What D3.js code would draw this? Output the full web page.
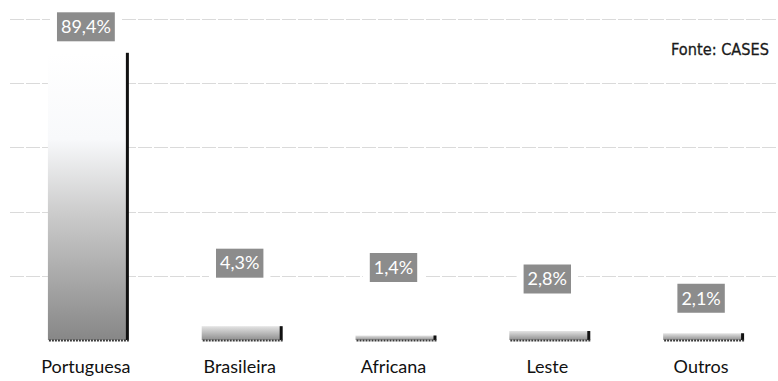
<!DOCTYPE html>
<html>
<head>
<meta charset="utf-8">
<script src="https://cdn.jsdelivr.net/npm/d3@7"></script>
<style>
  html, body { margin: 0; padding: 0; background: #fff; }
  svg { display: block; }
</style>
</head>
<body>
<svg id="chart" width="778" height="381"></svg>
<script>
// ---- data ----
const categories = ["Portuguesa", "Brasileira", "Africana", "Leste", "Outros"];
const values = [89.4, 4.3, 1.4, 2.8, 2.1];
const valueLabels = ["89,4%", "4,3%", "1,4%", "2,8%", "2,1%"];
const gridTicks = [20, 40, 60, 80, 100];
const sourceText = "Fonte: CASES";

// ---- layout (label nudges as in the reference) ----
const labelLift = [26, 63, 68, 52, 35];

const W = 778, H = 381;
const svg = d3.select("#chart");

const x = d3.scaleBand().domain(categories).range([11, 780]).paddingInner(0.48).paddingOuter(0.24);
const y = d3.scaleLinear().domain([0, 100]).range([340, 18.75]);

const defs = svg.append("defs");
const grad = defs.append("linearGradient").attr("id", "barGrad")
  .attr("x1", 0).attr("y1", 0).attr("x2", 0).attr("y2", 1);
grad.append("stop").attr("offset", "0%").attr("stop-color", "#ffffff");
grad.append("stop").attr("offset", "30%").attr("stop-color", "#f8f9fb");
grad.append("stop").attr("offset", "55%").attr("stop-color", "#cdcdcd");
grad.append("stop").attr("offset", "100%").attr("stop-color", "#878787");

const gradSmall = defs.append("linearGradient").attr("id", "barGradSmall")
  .attr("x1", 0).attr("y1", 0).attr("x2", 0).attr("y2", 1);
gradSmall.append("stop").attr("offset", "0%").attr("stop-color", "#e4e4e4");
gradSmall.append("stop").attr("offset", "100%").attr("stop-color", "#8f8f8f");

// gridlines
svg.append("g").selectAll("line").data(gridTicks).join("line")
  .attr("x1", 10).attr("x2", W)
  .attr("y1", d => Math.round(y(d)) + 0.5).attr("y2", d => Math.round(y(d)) + 0.5)
  .attr("stroke", "#dadada").attr("stroke-width", 1)
  .attr("stroke-dasharray", "14,2");

// bars
const bars = svg.append("g");
const data = categories.map((c, i) => ({ c, v: values[i], lab: valueLabels[i], lift: labelLift[i] }));

bars.selectAll("rect.bar").data(data).join("rect")
  .attr("class", "bar")
  .attr("x", d => x(d.c))
  .attr("y", d => y(d.v))
  .attr("width", x.bandwidth())
  .attr("height", d => y(0) - y(d.v))
  .attr("fill", d => d.v > 20 ? "url(#barGrad)" : "url(#barGradSmall)");

// dark right edge
bars.selectAll("rect.edge").data(data).join("rect")
  .attr("class", "edge")
  .attr("x", d => x(d.c) + x.bandwidth() - 2)
  .attr("y", d => y(d.v))
  .attr("width", 3)
  .attr("height", d => y(0) - y(d.v))
  .attr("fill", "#111");

// dark bottom edge
bars.selectAll("line.bottom").data(data).join("line")
  .attr("class", "bottom")
  .attr("x1", d => x(d.c) + 1)
  .attr("x2", d => x(d.c) + x.bandwidth() + 1)
  .attr("y1", y(0) + 0.5).attr("y2", y(0) + 0.5)
  .attr("stroke", "#3a3a3a").attr("stroke-width", 2)
  .attr("stroke-dasharray", "2,1");

// value labels
const labG = svg.append("g").selectAll("g").data(data).join("g")
  .attr("transform", d => `translate(${x(d.c) + x.bandwidth() / 2 - 2},${y(d.v) - d.lift})`);

const halo = labG.append("rect").attr("fill", "#fff");
const box = labG.append("rect").attr("fill", "#8c8c8c");
const txt = labG.append("text")
  .attr("text-anchor", "middle")
  .attr("dy", "0.35em")
  .attr("fill", "#fff")
  .style("font-family", "Lato, 'Open Sans', sans-serif")
  .style("font-size", "18px")
  .text(d => d.lab);

txt.each(function () {
  const w = this.getComputedTextLength();
  const g = d3.select(this.parentNode);
  const bw = w + 8, bh = 29;
  g.select("rect:nth-child(2)").attr("x", -bw / 2).attr("y", -bh / 2).attr("width", bw).attr("height", bh);
  g.select("rect:nth-child(1)").attr("x", -bw / 2 - 7).attr("y", -bh / 2 - 3).attr("width", bw + 14).attr("height", bh + 6);
});

// category labels
svg.append("g").selectAll("text").data(categories).join("text")
  .attr("x", d => x(d) + x.bandwidth() / 2 - 2)
  .attr("y", 373)
  .attr("text-anchor", "middle")
  .attr("fill", "#111")
  .style("font-family", "Lato, 'Open Sans', sans-serif")
  .style("font-size", "18px")
  .text(d => d);

// source
svg.append("text")
  .attr("x", 769).attr("y", 55)
  .attr("text-anchor", "end")
  .attr("fill", "#1a1a1a")
  .attr("textLength", 98).attr("lengthAdjust", "spacingAndGlyphs")
  .style("font-family", "'DejaVu Sans', sans-serif")
  .style("font-size", "16px")
  .style("stroke", "#1a1a1a").style("stroke-width", "0.3px")
  .text(sourceText);
</script>
</body>
</html>
